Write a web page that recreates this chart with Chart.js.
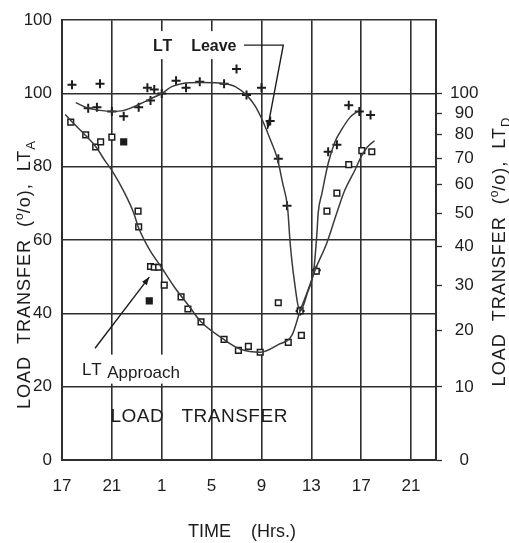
<!DOCTYPE html>
<html>
<head>
<meta charset="utf-8">
<title>Load transfer over the day</title>
<script src="https://cdn.jsdelivr.net/npm/chart.js@4/dist/chart.umd.min.js"></script>
<style>
  html, body { margin: 0; padding: 0; background: #ffffff; }
  canvas { display: block; }
</style>
</head>
<body>
<canvas id="chart" width="509" height="543"></canvas>
<script>
// Time is counted continuously from 17:00 on the first day (25 = 01:00, 41 = 17:00 next day).
const hourTicks = [17, 21, 25, 29, 33, 37, 41, 45];

// Left axis (LT_A) ticks; the top line of the frame carries the printed label "100".
const ltaTicks = [0, 20, 40, 60, 80, 100, 120];
const ltaTickLabels = ['0', '20', '40', '60', '80', '100', '100'];

// Right axis (LT_D) ticks, on its own compressed scale.
const ltdTicks = [0, 10, 20, 30, 40, 50, 60, 70, 80, 90, 100];

// LT Approach observations: hour, load transfer (%) on the LT_A scale.
const approachHours  = [17.7, 18.9, 19.7, 20.1, 21.0, 21.95, 23.1, 23.15, 24.1, 24.4, 24.75, 25.2, 24.0, 26.55, 27.1,
                        28.15, 30.0, 31.15, 31.95, 32.9, 34.35, 35.15, 36.2, 36.1, 37.4, 38.25, 39.05, 40.0, 41.05, 41.85];
const approachValues = [92.2, 88.7, 85.4, 86.8, 88.1, 86.8, 67.9, 63.6, 52.8, 52.6, 52.6, 47.7, 43.4, 44.5, 41.2,
                        37.7, 32.9, 29.9, 31.0, 29.4, 42.9, 32.1, 34.0, 40.7, 51.5, 67.9, 72.8, 80.6, 84.4, 84.1];

// LT Leave observations: hour, load transfer (%) on the LT_D scale.
const leaveHours  = [17.8, 20.05, 19.1, 19.8, 21.0, 21.95, 23.15, 24.1, 23.85, 24.4, 25.0, 26.15, 26.95, 28.05,
                     30.0, 31.0, 31.8, 33.0, 33.7, 34.35, 35.05, 36.1, 37.4, 38.35, 39.05, 40.0, 40.85, 41.75];
const leaveValues = [104.7, 105.3, 92.5, 92.9, 90.9, 88.5, 92.9, 96.4, 103.1, 102.1, 100, 106.9, 103.1, 106.3,
                     105.3, 113.6, 99.2, 103.1, 86.3, 69.8, 52.5, 24.1, 33.7, 72.7, 75.6, 94.0, 90.9, 89.1];

// Hand-faired curves through each set of observations.
const approachCurveHours  = [17.26, 17.82, 18.85, 19.73, 20.44, 21.0, 22.03, 22.75, 23.15, 24.02, 24.97, 26.01, 27.12, 28.15, 29.98,
                             31.33, 32.92, 34.35, 35.47, 36.1, 36.74, 37.3, 38.25, 39.04, 39.68, 40.48, 41.03, 41.5, 42.07];
const approachCurveValues = [94.3, 92.2, 88.7, 85.4, 81.7, 79.0, 72.8, 67.4, 63.3, 57.4, 52.6, 47.2, 42.3, 37.7, 32.9,
                             30.2, 29.4, 31.5, 34.2, 40.7, 46.4, 51.8, 59.3, 67.4, 73.6, 79.0, 83.0, 85.4, 87.1];

const leaveCurveHours  = [18.1, 19.1, 20.05, 21.0, 21.95, 23.15, 24.2, 25.0, 25.8, 26.6, 28.15, 30.0, 30.9, 31.9, 32.5, 33.1, 33.7,
                          34.3, 34.7, 35.1, 35.3, 35.6, 36.1, 36.7, 37.2, 37.45, 37.55, 37.85, 38.35, 38.9, 39.45, 40.1, 40.7];
const leaveCurveValues = [95.3, 92.5, 91.4, 90.9, 91.4, 94.3, 97.5, 100, 103.7, 105.3, 105.9, 105.3, 103.7, 98.5, 93.5, 86.3, 78,
                          69.4, 60.4, 51.7, 41.1, 31.9, 24.1, 28.3, 33.9, 44.0, 50.2, 56.8, 67.9, 76.9, 82.5, 88.0, 90.9];

// ---- drawing -------------------------------------------------------------

const INK = '#1c1c1c';
const GRID = '#2e2e2e';
const CURVE = '#3a3a3a';
const FONT = "'Liberation Sans', Arial, Helvetica, sans-serif";

Chart.defaults.font.family = FONT;
Chart.defaults.color = INK;

// LT_D is plotted on a compressed scale that shares the LT_A frame:
// position = 100 * ln(1 + k v) / ln(1 + 100 k), so 0 and 100 line up on both sides.
const K = 0.035;
const ltdToFrame = v => 100 * Math.log(1 + K * v) / Math.log(1 + 100 * K);
const frameToLtd = p => (Math.pow(1 + 100 * K, p / 100) - 1) / K;

class TransferScale extends Chart.LinearScale {
  getPixelForValue(value) {
    if (value === null || value === undefined || Number.isNaN(value)) return NaN;
    return super.getPixelForValue(ltdToFrame(value));
  }
  getValueForPixel(pixel) {
    return frameToLtd(super.getValueForPixel(pixel));
  }
}
TransferScale.id = 'transfer';
TransferScale.defaults = Chart.LinearScale.defaults;
Chart.register(TransferScale);

const toPoints = (xs, ys) => xs.map((x, i) => ({ x, y: ys[i] }));
const solidApproachMarks = new Set([5, 12]);

function drawRuns(ctx, runs, x, y, align) {
  const widths = runs.map(r => {
    ctx.font = `${r.weight || 'normal'} ${r.size}px ${FONT}`;
    ctx.letterSpacing = (r.spacing || 0) + 'px';
    return ctx.measureText(r.text).width;
  });
  const total = widths.reduce((a, b) => a + b, 0);
  let cx = align === 'center' ? x - total / 2 : x;
  runs.forEach((r, i) => {
    ctx.font = `${r.weight || 'normal'} ${r.size}px ${FONT}`;
    ctx.letterSpacing = (r.spacing || 0) + 'px';
    ctx.fillText(r.text, cx, y + (r.shift || 0));
    cx += widths[i];
  });
  ctx.letterSpacing = '0px';
  return total;
}

function arrowHead(ctx, fx, fy, tx, ty, len, half) {
  const a = Math.atan2(ty - fy, tx - fx);
  ctx.beginPath();
  ctx.moveTo(tx, ty);
  ctx.lineTo(tx - len * Math.cos(a) + half * Math.sin(a), ty - len * Math.sin(a) - half * Math.cos(a));
  ctx.lineTo(tx - len * Math.cos(a) - half * Math.sin(a), ty - len * Math.sin(a) + half * Math.cos(a));
  ctx.closePath();
  ctx.fill();
}

function titleRuns(sub) {
  return [
    { text: 'LOAD  TRANSFER  (', size: 18, spacing: 1 },
    { text: 'o', size: 12, shift: -7 },
    { text: '/o),  LT', size: 18, spacing: 1 },
    { text: sub, size: 13, shift: 5 }
  ];
}

const figureText = {
  id: 'figureText',
  afterDatasetsDraw(chart) {
    const { ctx, scales: { x, y } } = chart;
    ctx.save();
    ctx.fillStyle = INK;
    ctx.strokeStyle = INK;
    ctx.textBaseline = 'alphabetic';
    ctx.textAlign = 'left';

    // "LT Leave" label with its leader line
    const lx = x.getPixelForValue(24.3), ly = y.getPixelForValue(113.2);
    ctx.fillStyle = '#ffffff';
    ctx.fillRect(lx - 9, ly - 14, 100, 28);
    ctx.fillStyle = INK;
    drawRuns(ctx, [{ text: 'LT', size: 16, weight: 'bold', spacing: 1 },
                   { text: '    Leave', size: 16, weight: 'bold' }], lx, ly + 6, 'left');
    ctx.lineWidth = 1.4;
    const p1 = [x.getPixelForValue(31.6), ly];
    const p2 = [x.getPixelForValue(34.75), ly];
    const tip = [x.getPixelForValue(33.48), y.getPixelForValue(90.3)];
    ctx.beginPath();
    ctx.moveTo(p1[0], p1[1]);
    ctx.lineTo(p2[0], p2[1]);
    ctx.lineTo(tip[0], tip[1]);
    ctx.stroke();
    arrowHead(ctx, p2[0], p2[1], tip[0], tip[1], 7, 2.5);

    // "LT Approach" label with its arrow
    const ax = x.getPixelForValue(18.6), ay = y.getPixelForValue(23.3);
    ctx.fillStyle = '#ffffff';
    ctx.fillRect(ax - 4, ay - 20, 112, 29);
    ctx.fillStyle = INK;
    drawRuns(ctx, [{ text: 'LT', size: 17, spacing: 1 },
                   { text: ' Approach', size: 17, shift: 3 }], ax, ay, 'left');
    const s = [x.getPixelForValue(19.65), y.getPixelForValue(30.5)];
    const e = [x.getPixelForValue(24.0), y.getPixelForValue(49.9)];
    ctx.beginPath();
    ctx.moveTo(s[0], s[1]);
    ctx.lineTo(e[0], e[1]);
    ctx.stroke();
    arrowHead(ctx, s[0], s[1], e[0], e[1], 8, 3);

    // panel caption
    drawRuns(ctx, [{ text: 'LOAD   TRANSFER', size: 19, spacing: 0.5 }],
             x.getPixelForValue(28.0), y.getPixelForValue(10.5), 'center');

    // x-axis title
    drawRuns(ctx, [{ text: 'TIME    (Hrs.)', size: 18 }], 242, 537, 'center');

    // left axis title
    ctx.save();
    ctx.translate(23, 275);
    ctx.rotate(-Math.PI / 2);
    drawRuns(ctx, titleRuns('A'), 0, 7, 'center');
    ctx.restore();

    // right axis title
    ctx.save();
    ctx.translate(498, 252);
    ctx.rotate(-Math.PI / 2);
    drawRuns(ctx, titleRuns('D'), 0, 7, 'center');
    ctx.restore();

    ctx.restore();
  }
};

new Chart(document.getElementById('chart'), {
  type: 'scatter',
  data: {
    datasets: [
      {
        label: 'LT Approach curve',
        data: toPoints(approachCurveHours, approachCurveValues),
        yAxisID: 'y',
        showLine: true,
        pointRadius: 0,
        borderColor: CURVE,
        borderWidth: 1.5,
        cubicInterpolationMode: 'monotone'
      },
      {
        label: 'LT Leave curve',
        data: toPoints(leaveCurveHours, leaveCurveValues),
        yAxisID: 'ltd',
        showLine: true,
        pointRadius: 0,
        borderColor: CURVE,
        borderWidth: 1.5,
        cubicInterpolationMode: 'monotone'
      },
      {
        label: 'LT Approach',
        data: toPoints(approachHours, approachValues),
        yAxisID: 'y',
        pointStyle: 'rect',
        pointRadius: 4,
        pointBorderWidth: 1.5,
        pointBorderColor: INK,
        pointBackgroundColor: c => solidApproachMarks.has(c.dataIndex) ? INK : '#ffffff'
      },
      {
        label: 'LT Leave',
        data: toPoints(leaveHours, leaveValues),
        yAxisID: 'ltd',
        pointStyle: 'cross',
        pointRadius: 4.5,
        pointBorderWidth: 2,
        pointBorderColor: INK
      }
    ]
  },
  options: {
    responsive: false,
    animation: false,
    devicePixelRatio: 1,
    layout: { padding: { top: 16, left: 0, right: 0, bottom: 0 } },
    plugins: { legend: { display: false }, tooltip: { enabled: false } },
    scales: {
      x: {
        type: 'linear',
        min: 17,
        max: 47,
        afterBuildTicks: s => { s.ticks = hourTicks.map(v => ({ value: v })); },
        afterFit: s => { s.height = 83; },
        ticks: { callback: v => String(v % 24), padding: 16, color: INK, font: { size: 17 }, maxRotation: 0, autoSkip: false },
        grid: { color: GRID, lineWidth: 1.6, drawTicks: false },
        border: { color: GRID, width: 2 }
      },
      y: {
        type: 'linear',
        position: 'left',
        min: 0,
        max: 120,
        afterBuildTicks: s => { s.ticks = ltaTicks.map(v => ({ value: v })); },
        afterFit: s => { s.width = 62; },
        ticks: { callback: (v, i) => ltaTickLabels[i], padding: 10, color: INK, font: { size: 17 }, autoSkip: false },
        grid: { color: GRID, lineWidth: 1.6, drawTicks: false },
        border: { color: GRID, width: 2 }
      },
      ltd: {
        type: 'transfer',
        position: 'right',
        min: 0,
        max: 120,
        afterBuildTicks: s => { s.ticks = ltdTicks.map(v => ({ value: v })); },
        afterFit: s => { s.width = 73; },
        ticks: { callback: v => String(v), padding: 8, crossAlign: 'center', color: INK, font: { size: 17 }, autoSkip: false },
        grid: { drawOnChartArea: false, drawTicks: true, tickLength: 6, tickColor: GRID, tickWidth: 1.3 },
        border: { color: GRID, width: 2 }
      }
    }
  },
  plugins: [figureText]
});
</script>
</body>
</html>
